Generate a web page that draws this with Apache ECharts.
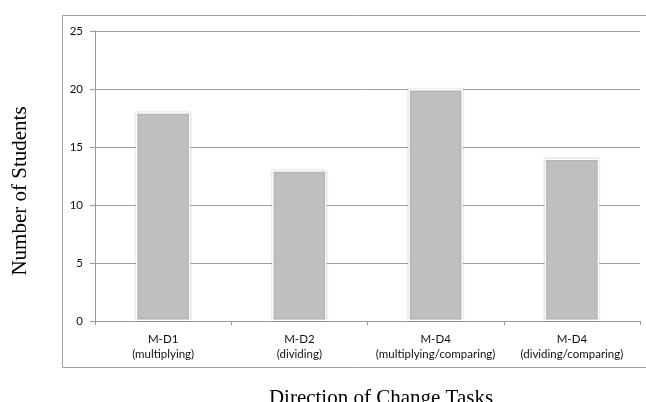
<!DOCTYPE html>
<html><head><meta charset="utf-8">
<script src="https://cdn.jsdelivr.net/npm/echarts@6/dist/echarts.min.js"></script>
<style>html,body{margin:0;padding:0;background:#fff;}#c{width:646px;height:402px;}</style>
</head><body><div id="c"></div>
<script>
const categories = ['M-D1\n(multiplying)', 'M-D2\n(dividing)', 'M-D4\n(multiplying/comparing)', 'M-D4\n(dividing/comparing)'];
const students = [18, 13, 20, 14];
const yTicks = { min: 0, max: 25, interval: 5 };
const yTitle = 'Number of Students';
const xTitle = 'Direction of Change Tasks';

const chart = echarts.init(document.getElementById('c'), null, { renderer: 'canvas' });
chart.setOption({
  animation: false,
  backgroundColor: '#fff',
  grid: { left: 95, right: 6, top: 31, bottom: 81, containLabel: false },
  xAxis: {
    type: 'category',
    data: categories,
    axisLine: { lineStyle: { color: '#9a9a9a', width: 1 } },
    axisTick: { show: true, interval: 0, alignWithLabel: false, length: 4, lineStyle: { color: '#9a9a9a' } },
    axisLabel: { interval: 0, color: '#111', fontFamily: 'Lato', fontSize: 11.5, lineHeight: 15, margin: 11 }
  },
  yAxis: {
    type: 'value',
    min: yTicks.min, max: yTicks.max, interval: yTicks.interval,
    axisLine: { show: true, lineStyle: { color: '#9a9a9a', width: 1 } },
    axisTick: { show: true, length: 5, lineStyle: { color: '#9a9a9a' } },
    axisLabel: { color: '#111', fontFamily: 'Lato', fontSize: 11.5, margin: 12 },
    splitLine: { show: true, lineStyle: { color: '#9e9e9e', width: 1 } }
  },
  series: [{
    type: 'bar',
    data: students,
    barWidth: '40%',
    itemStyle: {
      color: '#bfbfbf',
      borderColor: '#ffffff',
      borderWidth: 1.5,
      shadowColor: 'rgba(0,0,0,0.25)',
      shadowBlur: 2
    }
  }],
  graphic: [
    { type: 'rect', z: -1, shape: { x: 62.5, y: 15.5, width: 600, height: 352 },
      style: { fill: 'none', stroke: '#a0a0a0', lineWidth: 1 } },
    { type: 'text', x: 20, y: 191, rotation: Math.PI / 2,
      style: { text: yTitle, font: '21px "Liberation Serif", "DejaVu Serif", serif', fill: '#000',
               align: 'center', verticalAlign: 'middle' } },
    { type: 'text', x: 381, y: 409,
      style: { text: xTitle, font: '21px "Liberation Serif", "DejaVu Serif", serif', fill: '#000',
               align: 'center', verticalAlign: 'bottom' } }
  ]
});
</script>
</body></html>
